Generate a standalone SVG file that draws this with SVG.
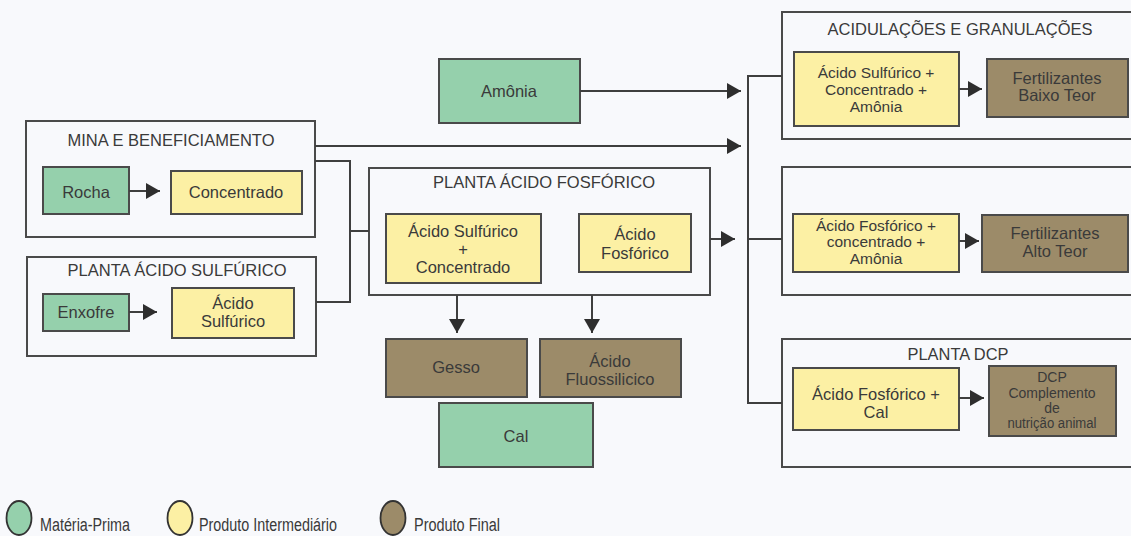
<svg xmlns="http://www.w3.org/2000/svg" width="1131" height="536" viewBox="0 0 1131 536">
<style>
text{font-family:"Liberation Sans",Arial,sans-serif;fill:#3a3a3a;text-anchor:middle}
.t{font-size:16.5px}
.s{font-size:15.5px}
.xs{font-size:14px}
.lg{font-size:18px;text-anchor:start}
.grp{fill:#f8f9fc;stroke:#4a4a4a;stroke-width:2}
.raw{fill:#95d0ac;stroke:#4a4a4a;stroke-width:2}
.mid{fill:#fcf0a4;stroke:#4a4a4a;stroke-width:2}
.fin{fill:#9c8b69;stroke:#4a4a4a;stroke-width:2}
.c{fill:none;stroke:#3f3f3f;stroke-width:2}
.a{fill:none;stroke:#3f3f3f;stroke-width:2;marker-end:url(#ah)}
</style>
<defs>
<marker id="ah" viewBox="0 0 14 16" refX="14" refY="8" markerWidth="14" markerHeight="16" markerUnits="userSpaceOnUse" orient="auto">
<path d="M0,0 L14,8 L0,16 Z" fill="#2e2e2e"/>
</marker>
</defs>
<rect width="1131" height="536" fill="#f8f9fc"/>

<g id="mina">
<rect class="grp" x="26" y="121" width="289" height="116"/>
<text class="t" x="171" y="146" textLength="207" lengthAdjust="spacingAndGlyphs">MINA E BENEFICIAMENTO</text>
</g>
<g id="rocha">
<rect class="raw" x="43" y="167" width="86" height="47"/>
<text class="t" x="86" y="198">Rocha</text>
</g>
<g id="concentrado">
<rect class="mid" x="171" y="171" width="131" height="43"/>
<text class="t" x="236" y="198">Concentrado</text>
</g>

<g id="planta-sulfurico">
<rect class="grp" x="27" y="257" width="289" height="99"/>
<text class="t" x="177" y="276" textLength="219" lengthAdjust="spacingAndGlyphs">PLANTA ÁCIDO SULFÚRICO</text>
</g>
<g id="enxofre">
<rect class="raw" x="43" y="294" width="86" height="37"/>
<text class="t" x="86" y="318">Enxofre</text>
</g>
<g id="acido-sulfurico">
<rect class="mid" x="172" y="288" width="122" height="50"/>
<text class="t" x="233" y="309">Ácido</text>
<text class="t" x="233" y="327">Sulfúrico</text>
</g>

<g id="amonia">
<rect class="raw" x="439" y="59" width="141" height="64"/>
<text class="t" x="509" y="97">Amônia</text>
</g>

<g id="planta-fosforico">
<rect class="grp" x="369" y="168" width="341" height="127"/>
<text class="t" x="544" y="188" textLength="222" lengthAdjust="spacingAndGlyphs">PLANTA ÁCIDO FOSFÓRICO</text>
</g>
<g id="sulf-conc">
<rect class="mid" x="386" y="214" width="155" height="69"/>
<text class="t" x="463" y="237">Ácido Sulfúrico</text>
<text class="t" x="463" y="255">+</text>
<text class="t" x="463" y="273">Concentrado</text>
</g>
<g id="acido-fosforico">
<rect class="mid" x="579" y="214" width="112" height="58"/>
<text class="t" x="635" y="240">Ácido</text>
<text class="t" x="635" y="259">Fosfórico</text>
</g>

<g id="gesso">
<rect class="fin" x="386" y="339" width="141" height="58"/>
<text class="t" x="456" y="373">Gesso</text>
</g>
<g id="fluossilicico">
<rect class="fin" x="540" y="339" width="141" height="58"/>
<text class="t" x="610" y="367">Ácido</text>
<text class="t" x="610" y="385">Fluossilicico</text>
</g>
<g id="cal">
<rect class="raw" x="439" y="403" width="154" height="64"/>
<text class="t" x="516" y="442">Cal</text>
</g>

<g id="acidulacoes">
<rect class="grp" x="782" y="12" width="358" height="127"/>
<text class="t" x="960" y="35" textLength="265" lengthAdjust="spacingAndGlyphs">ACIDULAÇÕES E GRANULAÇÕES</text>
</g>
<g id="sulf-conc-amonia">
<rect class="mid" x="794" y="52" width="165" height="74"/>
<text class="s" x="876" y="78">Ácido Sulfúrico +</text>
<text class="s" x="876" y="95">Concentrado +</text>
<text class="s" x="876" y="112">Amônia</text>
</g>
<g id="baixo-teor">
<rect class="fin" x="987" y="59" width="141" height="58"/>
<text class="t" x="1057" y="84">Fertilizantes</text>
<text class="t" x="1057" y="101">Baixo Teor</text>
</g>

<g id="alto-grupo">
<rect class="grp" x="782" y="167" width="358" height="128"/>
</g>
<g id="fos-conc-amonia">
<rect class="mid" x="793" y="214" width="166" height="58"/>
<text class="s" x="876" y="231">Ácido Fosfórico +</text>
<text class="s" x="876" y="247">concentrado +</text>
<text class="s" x="876" y="264">Amônia</text>
</g>
<g id="alto-teor">
<rect class="fin" x="982" y="215" width="146" height="57"/>
<text class="t" x="1055" y="239">Fertilizantes</text>
<text class="t" x="1055" y="257">Alto Teor</text>
</g>

<g id="planta-dcp">
<rect class="grp" x="782" y="339" width="358" height="128"/>
<text class="t" x="958" y="360" textLength="101" lengthAdjust="spacingAndGlyphs">PLANTA DCP</text>
</g>
<g id="fos-cal">
<rect class="mid" x="793" y="368" width="166" height="62"/>
<text class="t" x="876" y="400">Ácido Fosfórico +</text>
<text class="t" x="876" y="418">Cal</text>
</g>
<g id="dcp">
<rect class="fin" x="989" y="366" width="127" height="70"/>
<text class="xs" x="1052" y="382">DCP</text>
<text class="xs" x="1052" y="398">Complemento</text>
<text class="xs" x="1052" y="413">de</text>
<text class="xs" x="1052" y="428" textLength="89" lengthAdjust="spacingAndGlyphs">nutrição animal</text>
</g>

<g id="connectors">
<path class="a" d="M129,191 H160"/>
<path class="a" d="M129,312 H157"/>
<path class="a" d="M580,91 H741"/>
<path class="a" d="M315,146 H741"/>
<path class="c" d="M315,161 H350 V302 H316"/>
<path class="c" d="M350,231 H369"/>
<path class="a" d="M710,239 H735"/>
<path class="c" d="M782,76 H748 V403 H782"/>
<path class="c" d="M748,239 H782"/>
<path class="a" d="M457,295 V333"/>
<path class="a" d="M592,295 V333"/>
<path class="a" d="M959,89 H982"/>
<path class="a" d="M959,241 H979"/>
<path class="a" d="M959,398 H984"/>
</g>

<g id="legend">
<ellipse cx="19" cy="518" rx="12.5" ry="17" fill="#95d0ac" stroke="#333" stroke-width="1.8"/>
<text class="lg" x="40" y="531" textLength="90" lengthAdjust="spacingAndGlyphs">Matéria-Prima</text>
<ellipse cx="180" cy="518" rx="12.5" ry="17" fill="#fcf0a4" stroke="#333" stroke-width="1.8"/>
<text class="lg" x="199" y="531" textLength="138" lengthAdjust="spacingAndGlyphs">Produto Intermediário</text>
<ellipse cx="393" cy="518" rx="12.5" ry="17" fill="#9c8b69" stroke="#333" stroke-width="1.8"/>
<text class="lg" x="414" y="531" textLength="86" lengthAdjust="spacingAndGlyphs">Produto Final</text>
</g>
</svg>
